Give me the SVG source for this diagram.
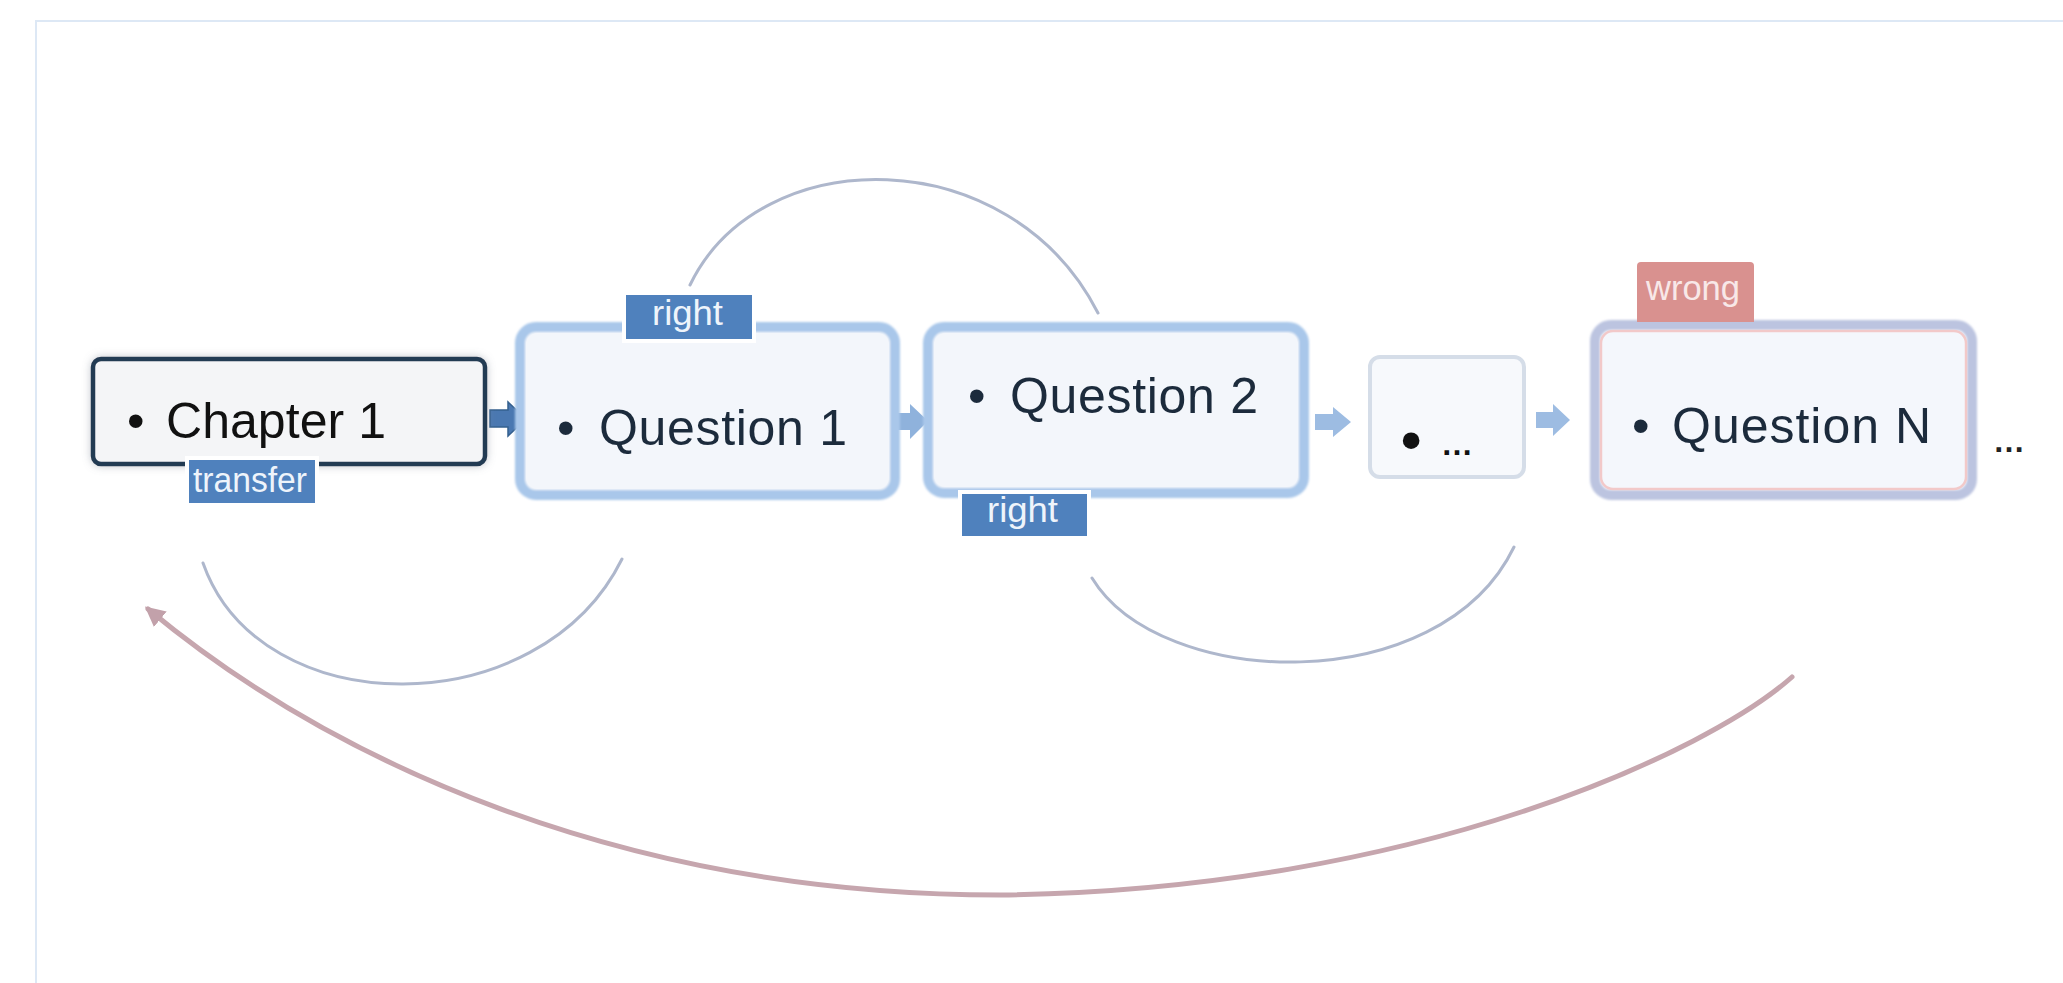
<svg xmlns="http://www.w3.org/2000/svg" width="2063" height="983" viewBox="0 0 2063 983">
  <defs>
    <style>
      .node-text { font-family: "Liberation Sans", Arial, sans-serif; font-size: 50px; fill: #1c2b3c; }
      .tag-text { font-family: "Liberation Sans", Arial, sans-serif; font-size: 35px; fill: #eef4fb; }
      .tag-blue { fill: #4f81bd; stroke: #ffffff; stroke-width: 4; }
      .q-box { fill: #f3f6fb; stroke: #a9c7ea; stroke-width: 10; }
      .arc-right { fill: none; stroke: #aeb7cc; stroke-width: 3; stroke-linecap: round; }
      .arc-wrong { fill: none; stroke: #c6a6ae; stroke-width: 5; stroke-linecap: round; }
      .step-dark { fill: #4a78b1; stroke: #34608f; stroke-width: 1.5; }
      .step-light { fill: #8fb2dc; }
      .step-pale { fill: #9dbce2; }
    </style>
    <filter id="shadow" x="-10%" y="-20%" width="120%" height="140%">
      <feDropShadow dx="0" dy="0" stdDeviation="4" flood-color="#7a8494" flood-opacity="0.45"/>
    </filter>
    <filter id="soft" x="-5%" y="-10%" width="110%" height="120%">
      <feGaussianBlur stdDeviation="1.2"/>
    </filter>
    <marker id="tip" viewBox="0 0 10 10" refX="8" refY="5" markerWidth="4" markerHeight="4" orient="auto" markerUnits="strokeWidth">
      <path d="M0 0 L10 5 L0 10 Z" fill="#c2a1aa"/>
    </marker>
  </defs>

  <!-- page frame -->
  <g id="frame" fill="none" stroke="#dde8f5" stroke-width="2">
    <path d="M36 983 L36 21 L2063 21"/>
  </g>

  <!-- connectors -->
  <g id="connectors">
    <path class="arc-right" d="M690 285 C760 140, 1010 140, 1098 313"/>
    <path class="arc-right" d="M203 563 C260 725, 540 725, 622 559"/>
    <path class="arc-right" d="M1092 578 C1160 690, 1440 700, 1514 547"/>
    <path class="arc-wrong" d="M1792 677 C1710 750, 1420 890, 1000 895 C620 895, 330 760, 148 609" marker-end="url(#tip)"/>
    <!-- step arrows between nodes -->
    <polygon class="step-dark" points="490,410 508,410 508,402 526,419 508,436 508,427 490,427"/>
    <polygon class="step-light" points="892,413 910,413 910,404 928,421 910,439 910,430 892,430"/>
    <polygon class="step-pale" points="1315,414 1333,414 1333,407 1351,422 1333,437 1333,430 1315,430"/>
    <polygon class="step-pale" points="1536,412 1553,412 1553,404 1570,420 1553,436 1553,428 1536,428"/>
  </g>

  <!-- Chapter 1 -->
  <g id="chapter1">
    <rect x="93" y="359" width="392" height="105" rx="8" fill="#f4f5f7" stroke="#243a52" stroke-width="4.5" filter="url(#shadow)"/>
    <text class="node-text" y="438"><tspan x="127" style="fill:#111">•</tspan><tspan x="166" style="fill:#111" textLength="220">Chapter 1</tspan></text>
    <rect class="tag-blue" x="187" y="458" width="130" height="47"/>
    <text class="tag-text" x="193" y="492" textLength="114" lengthAdjust="spacingAndGlyphs">transfer</text>
  </g>

  <!-- Question 1 -->
  <g id="question1">
    <rect class="q-box" x="520" y="327" width="375" height="168" rx="16" filter="url(#soft)"/>
    <rect x="526" y="333" width="363" height="156" rx="12" fill="#f3f6fb"/>
    <text class="node-text" y="445"><tspan x="557">•</tspan><tspan x="599" textLength="248">Question 1</tspan></text>
    <rect class="tag-blue" x="624" y="293" width="130" height="48"/>
    <text class="tag-text" x="652" y="325" textLength="71" lengthAdjust="spacingAndGlyphs">right</text>
  </g>

  <!-- Question 2 -->
  <g id="question2">
    <rect class="q-box" x="928" y="327" width="376" height="166" rx="16" filter="url(#soft)"/>
    <rect x="934" y="333" width="364" height="154" rx="12" fill="#f3f6fb"/>
    <text class="node-text" y="413"><tspan x="968">•</tspan><tspan x="1010" textLength="248">Question 2</tspan></text>
    <rect class="tag-blue" x="960" y="492" width="129" height="46"/>
    <text class="tag-text" x="987" y="522" textLength="71" lengthAdjust="spacingAndGlyphs">right</text>
  </g>

  <!-- more questions -->
  <g id="more">
    <rect x="1370" y="357" width="154" height="120" rx="10" fill="#f7f9fc" stroke="#d5dde8" stroke-width="4"/>
    <text font-family="'Liberation Sans', Arial, sans-serif" fill="#111"><tspan x="1401" y="460" font-size="58" font-weight="bold">•</tspan><tspan x="1441" y="455" font-size="32" font-weight="bold" textLength="30">…</tspan></text>
  </g>

  <!-- Question N -->
  <g id="questionN">
    <rect x="1595" y="325" width="377" height="170" rx="16" fill="#f4f7fc" stroke="#bcc4e0" stroke-width="10" filter="url(#soft)"/>
    <rect x="1601" y="331" width="365" height="158" rx="12" fill="#f4f7fc" stroke="#f2c9c9" stroke-width="2.5"/>
    <text class="node-text" y="443"><tspan x="1632">•</tspan><tspan x="1672" textLength="259">Question N</tspan></text>
    <path d="M1637 322 L1637 266 Q1637 262 1641 262 L1750 262 Q1754 262 1754 266 L1754 322 Z" fill="#d9918f"/>
    <text class="tag-text" x="1646" y="300" textLength="94" lengthAdjust="spacingAndGlyphs" style="fill:#f8e8e8">wrong</text>
  </g>

  <!-- trailing ellipsis -->
  <g id="tail">
    <text x="1993" y="452" font-family="'Liberation Sans', Arial, sans-serif" font-size="32" font-weight="bold" fill="#222" textLength="31">…</text>
  </g>
</svg>
